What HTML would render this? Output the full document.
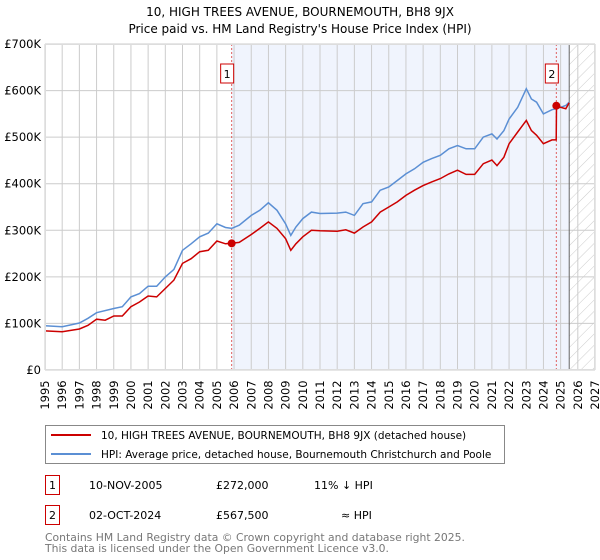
<!DOCTYPE html>
<html><head><meta charset="utf-8"><style>
body{margin:0;background:#fff;font-family:"Liberation Sans","DejaVu Sans",sans-serif;}
svg{display:block}
text{font-family:"DejaVu Sans","Liberation Sans",sans-serif;}
</style></head><body>
<svg id="chart" width="600" height="560" xmlns="http://www.w3.org/2000/svg">
<text x="300" y="16" text-anchor="middle" font-size="12">10, HIGH TREES AVENUE, BOURNEMOUTH, BH8 9JX</text>
<text x="300" y="33" text-anchor="middle" font-size="12">Price paid vs. HM Land Registry's House Price Index (HPI)</text>
<defs><pattern id="hatch" width="8" height="8" patternUnits="userSpaceOnUse" patternTransform="rotate(45)"><line x1="0" y1="0" x2="0" y2="8" stroke="#ccc" stroke-width="1"/></pattern></defs>
<g id="plot"></g>
<g>
<rect x="45.5" y="425.5" width="459" height="38" fill="#fff" stroke="#888"/>
<line x1="51" y1="435" x2="91" y2="435" stroke="#cc0000" stroke-width="2"/>
<text x="101" y="439" font-size="10.5">10, HIGH TREES AVENUE, BOURNEMOUTH, BH8 9JX (detached house)</text>
<line x1="51" y1="454" x2="91" y2="454" stroke="#5b8fd4" stroke-width="2"/>
<text x="101" y="458" font-size="10.5">HPI: Average price, detached house, Bournemouth Christchurch and Poole</text>
</g>
<g font-size="11">
<rect x="45.5" y="475.5" width="14" height="19" fill="#fff" stroke="#cc0000"/>
<text x="52.5" y="489" text-anchor="middle">1</text>
<text x="89" y="489">10-NOV-2005</text>
<text x="216" y="489">£272,000</text>
<text x="314" y="489">11% ↓ HPI</text>
<rect x="45.5" y="505.5" width="14" height="19" fill="#fff" stroke="#cc0000"/>
<text x="52.5" y="519" text-anchor="middle">2</text>
<text x="89" y="519">02-OCT-2024</text>
<text x="216" y="519">£567,500</text>
<text x="341" y="519">≈ HPI</text>
</g>
<text x="45" y="541" font-size="10.8" fill="#777">Contains HM Land Registry data © Crown copyright and database right 2025.</text>
<text x="45" y="552" font-size="10.8" fill="#777">This data is licensed under the Open Government Licence v3.0.</text>
</svg>
<script>
const hpiYears=[1995,1996,1997,1997.5,1998,1999,1999.5,2000,2000.5,2001,2001.5,2002,2002.5,2003,2003.5,2004,2004.5,2005,2005.5,2005.86,2006.3,2007,2007.5,2008,2008.5,2009,2009.3,2009.6,2010,2010.5,2011,2012,2012.5,2013,2013.5,2014,2014.5,2015,2015.5,2016,2016.5,2017,2017.5,2018,2018.5,2019,2019.5,2020,2020.5,2021,2021.3,2021.7,2022,2022.5,2023,2023.3,2023.6,2024,2024.5,2024.75,2025,2025.3,2025.5];
const hpiValues=[95,93,101,111,123,132,136,157,164,180,180,200,216,257,271,286,294,314,306,304,311,332,343,359,343,314,289,307,325,339,336,337,339,332,357,361,386,393,407,421,432,446,454,461,475,482,475,475,500,507,496,514,539,564,604,582,575,550,559,561,564,568,575];
const propYears=[1995,1996,1997,1997.5,1998,1998.5,1999,1999.5,2000,2000.5,2001,2001.5,2002,2002.5,2003,2003.5,2004,2004.5,2005,2005.5,2005.86,2006.3,2007,2007.5,2008,2008.5,2009,2009.3,2009.6,2010,2010.5,2011,2012,2012.5,2013,2013.5,2014,2014.5,2015,2015.5,2016,2016.5,2017,2017.5,2018,2018.5,2019,2019.5,2020,2020.5,2021,2021.3,2021.7,2022,2022.5,2023,2023.3,2023.6,2024,2024.5,2024.74,2024.76,2025,2025.3,2025.5];
const propValues=[84,82,88,96,109,107,116,116,136,146,159,157,175,193,229,239,254,257,277,271,272,274,291,304,318,304,282,257,271,286,300,299,298,301,294,307,318,339,350,361,375,386,396,404,411,421,429,420,420,443,451,439,457,486,511,536,514,504,486,494,494,567,564,561,574];
const saleYears=[2005.86,2024.75];
const saleValues=[272,567.5];
const saleLabels=["1","2"];
const yTicks=[0,100,200,300,400,500,600,700];
const yTickLabels=["£0","£100K","£200K","£300K","£400K","£500K","£600K","£700K"];
const xMin=1995,xMax=2027,L=45,R=595,T=44,B=370;
const dataEnd=2025.5;
function X(y){return L+(y-xMin)/(xMax-xMin)*(R-L);}
function Y(v){return B-v/700*(B-T);}
const NS="http://www.w3.org/2000/svg";
const g=document.getElementById('plot');
function mk(tag,attrs,parent){const e=document.createElementNS(NS,tag);for(const k in attrs)e.setAttribute(k,attrs[k]);(parent||g).appendChild(e);return e;}
let e;
e=mk('rect',{x:L,y:T,width:R-L,height:B-T,fill:'#fff'});


e=mk('rect',{x:X(saleYears[0]),y:T,width:X(dataEnd)-X(saleYears[0]),height:B-T,fill:'#f0f4fd'});


e=mk('rect',{x:X(dataEnd),y:T,width:R-X(dataEnd),height:B-T,fill:'url(#hatch)'});


for(let yr=xMin;yr<=xMax;yr++){
 e=mk('line',{x1:X(yr),x2:X(yr),y1:T,y2:B,stroke:'#ccc','stroke-width':1});
 
 
 const t=mk('text',{transform:`translate(${X(yr)+4},${B+25}) rotate(-90)`,'font-size':'11.5','text-anchor':'middle'});
 t.textContent=yr;
 
 
}
yTicks.forEach((v,i)=>{
 e=mk('line',{x1:L,x2:R,y1:Y(v),y2:Y(v),stroke:'#ccc','stroke-width':1});
 
 
 const t=mk('text',{x:L-4,y:Y(v)+4,'font-size':'11.5','text-anchor':'end'});
 t.textContent=yTickLabels[i];
 
 
});
e=mk('line',{x1:X(dataEnd),x2:X(dataEnd),y1:T,y2:B,stroke:'#666','stroke-width':1});


saleYears.forEach((yr,i)=>{
 e=mk('line',{x1:X(yr),x2:X(yr),y1:T,y2:B,stroke:'#e06060','stroke-width':1,'stroke-dasharray':'2,2'});
 
 
 e=mk('rect',{x:X(yr)-11,y:64,width:13,height:19,fill:'#fff',stroke:'#cc0000'});
 
 
 const t=mk('text',{x:X(yr)-4.5,y:78,'font-size':'11','text-anchor':'middle'});
 t.textContent=saleLabels[i];
 
 
});
function pts(xs,vs){return xs.map((x,i)=>X(x).toFixed(1)+','+Y(vs[i]).toFixed(1)).join(' ');}
e=mk('polyline',{points:pts(hpiYears,hpiValues),fill:'none',stroke:'#5b8fd4','stroke-width':1.5});


e=mk('polyline',{points:pts(propYears,propValues),fill:'none',stroke:'#cc0000','stroke-width':1.5});


saleYears.forEach((yr,i)=>{
 e=mk('circle',{cx:X(yr),cy:Y(saleValues[i]),r:4,fill:'#cc0000'});
 
 
});
e=mk('rect',{x:L+.5,y:T+.5,width:R-L-1,height:B-T-1,fill:'none',stroke:'#ddd'});


</script>
</body></html>
